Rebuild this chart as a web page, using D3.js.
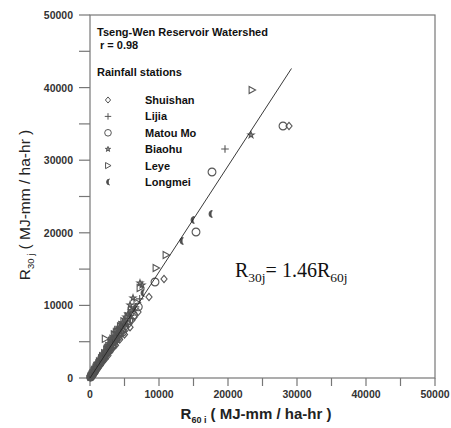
<!DOCTYPE html>
<html>
<head>
<meta charset="utf-8">
<script src="https://cdn.jsdelivr.net/npm/d3@7"></script>
<style>
  body { margin: 0; background: #fff; }
  text { font-family: "Liberation Sans", Arial, sans-serif; }
  text.serif { font-family: "Liberation Serif", "Times New Roman", serif; }
</style>
</head>
<body>
<svg id="chart" width="451" height="428"></svg>
<script>
// R60 (x) vs R30 (y) per rainfall station
const shuishan = [
  [28841, 34711], [10725, 13636], [8551, 11157], [6957, 9091], [6087, 7989],
  [5600, 7400], [5200, 7100], [4800, 6500], [4500, 6300], [4200, 5900], [3900, 5200],
  [3600, 5000], [3300, 4700], [3000, 4100], [2800, 3900], [2500, 3400], [2300, 3200],
  [2100, 2800], [1900, 2600], [1700, 2300], [1500, 2100], [1300, 1750], [1100, 1500],
  [950, 1300], [800, 1050], [650, 900], [500, 700], [400, 520], [300, 400], [200, 280],
  [120, 160], [60, 80], [5000, 6000], [4300, 5300], [3700, 4500], [3100, 3900],
  [2600, 3100], [2200, 2600], [1800, 2200], [1400, 1700], [1000, 1250], [700, 850],
  [450, 550], [5800, 7000], [6400, 8400], [4000, 5600], [3400, 4300], [2700, 3500]
];
const lijia = [
  [19565, 31543], [6600, 9800], [5400, 8200], [4600, 6900], [4100, 6200], [3700, 5500],
  [3400, 5000], [3100, 4600], [2700, 4000], [2400, 3500], [2200, 3300], [1800, 2700],
  [1600, 2300], [1400, 2000], [1200, 1800], [1000, 1450], [850, 1250], [700, 1000],
  [550, 800], [420, 620], [320, 460], [220, 320], [150, 210], [80, 110],
  [4900, 7500], [4300, 6500], [3900, 5700], [3500, 5300], [2900, 4300], [2500, 3800],
  [2000, 3000], [1700, 2500], [1300, 1900], [900, 1350], [600, 900], [350, 520],
  [5900, 8600], [7200, 10900], [5100, 7300]
];
const matou = [
  [27971, 34711], [17681, 28375], [15362, 20110], [9420, 13223], [6300, 8700],
  [5000, 6800], [4400, 6200], [3800, 5400], [3500, 5100], [3200, 4500], [2900, 4200],
  [2600, 3700], [2300, 3300], [2000, 2900], [1750, 2500], [1550, 2200], [1350, 1900],
  [1150, 1650], [900, 1300], [750, 1100], [600, 850], [450, 650], [350, 500],
  [250, 350], [150, 220], [90, 120], [5600, 7900], [4700, 6300], [4100, 5700],
  [3400, 4700], [2800, 3800], [2400, 3500], [1900, 2700], [1450, 2050], [1050, 1500],
  [680, 950], [400, 560], [7000, 9800], [5300, 8000]
];
const biaohu = [
  [23333, 33471], [7536, 12810], [7246, 13085], [6232, 11019], [5797, 10055],
  [5500, 8800], [4700, 7600], [4300, 7000], [3900, 6300], [3500, 5600], [3200, 5200],
  [2900, 4700], [2600, 4200], [2300, 3700], [2000, 3200], [1800, 2900], [1600, 2550],
  [1400, 2200], [1200, 1900], [1000, 1600], [800, 1300], [650, 1050], [500, 800],
  [380, 600], [280, 440], [180, 290], [100, 160], [4500, 6900], [4000, 6700],
  [3300, 5500], [2700, 4500], [2200, 3500], [1700, 2800], [1300, 2100], [900, 1500],
  [600, 950], [6000, 9300], [5200, 8400]
];
const leye = [
  [23478, 39669], [11014, 16942], [9565, 15152], [7246, 12397], [6000, 9400],
  [4900, 7800], [4400, 7100], [4000, 6600], [3600, 5900], [3300, 5400], [3000, 4800],
  [2700, 4400], [2400, 3900], [2200, 5400], [2100, 3400], [1900, 3000], [1650, 2700],
  [1450, 2300], [1250, 2000], [1050, 1700], [850, 1400], [700, 1100], [550, 900],
  [400, 650], [300, 480], [200, 320], [110, 180], [4600, 7300], [3800, 6300],
  [3100, 5100], [2500, 4100], [1800, 3000], [1350, 2250], [950, 1600], [620, 1050],
  [5500, 8500], [6800, 10400], [3500, 6000]
];
const longmei = [
  [17536, 22590], [14928, 21763], [13333, 18870], [7681, 11708], [5300, 7500],
  [4500, 6600], [4000, 5900], [3600, 5300], [3200, 4700], [2800, 4100], [2500, 3700],
  [2200, 3200], [1900, 2800], [1650, 2400], [1400, 2050], [1200, 1750], [1000, 1450],
  [800, 1200], [620, 900], [480, 700], [350, 520], [240, 350], [140, 200], [70, 100],
  [4800, 7200], [4200, 6100], [3400, 5100], [3000, 4300], [2600, 3900], [2000, 3050],
  [1550, 2300], [1100, 1650], [720, 1080], [420, 620], [5900, 8800], [6500, 9500]
];

const stations = ['Shuishan', 'Lijia', 'Matou Mo', 'Biaohu', 'Leye', 'Longmei'];
const stationData = [shuishan, lijia, matou, biaohu, leye, longmei];
const ticks = [0, 10000, 20000, 30000, 40000, 50000];
const minorTicks = d3.range(0, 50001, 5000);
const slope = 1.46;
const fitEnd = 29200;

const svg = d3.select('#chart');
const margin = { top: 15, right: 16, bottom: 50, left: 90 };
const width = +svg.attr('width');
const height = +svg.attr('height');

const x = d3.scaleLinear().domain([0, 50000]).range([margin.left, width - margin.right]);
const y = d3.scaleLinear().domain([0, 50000]).range([height - margin.bottom, margin.top]);

const axisColor = '#777';
const markColor = '#555';

// marker shapes
const shapes = [
  s => 'M0,' + (-s) + 'L' + (s * 0.85) + ',0L0,' + s + 'L' + (-s * 0.85) + ',0Z',          // diamond
  s => 'M' + (-s) + ',0H' + s + 'M0,' + (-s) + 'V' + s,                                     // plus
  s => d3.arc()({ innerRadius: 0, outerRadius: s, startAngle: 0, endAngle: 2 * Math.PI }),  // circle
  s => d3.symbol(d3.symbolStar, s * s * 0.8)(),                                              // star
  s => 'M' + (-s * 0.8) + ',' + (-s) + 'L' + s + ',0L' + (-s * 0.8) + ',' + s + 'Z',         // triangle right
  s => 'M1.5,' + (-s) + 'A' + s + ' ' + s + ' 0 1 0 1.5,' + s + 'A' + (s * 0.45) + ' ' + s + ' 0 0 1 1.5,' + (-s) + 'Z' // crescent
];
const fills = ['none', 'none', 'none', '#999', 'none', '#444'];
const sizes = [3.6, 3.8, 3.9, 3.8, 3.6, 3.4];

// frame
svg.append('rect')
  .attr('x', x(0)).attr('y', y(50000))
  .attr('width', x(50000) - x(0)).attr('height', y(0) - y(50000))
  .attr('fill', 'none').attr('stroke', axisColor).attr('stroke-width', 1.2);

// ticks
svg.append('g').selectAll('line').data(minorTicks).join('line')
  .attr('x1', d => x(d)).attr('x2', d => x(d))
  .attr('y1', y(0)).attr('y2', y(0) + 8)
  .attr('stroke', axisColor).attr('stroke-width', 1.2);
svg.append('g').selectAll('line').data(minorTicks).join('line')
  .attr('y1', d => y(d)).attr('y2', d => y(d))
  .attr('x1', x(0)).attr('x2', x(0) - 11)
  .attr('stroke', axisColor).attr('stroke-width', 1.2);

// tick labels
svg.append('g').selectAll('text').data(ticks).join('text')
  .attr('x', d => x(d)).attr('y', y(0) + 20)
  .attr('text-anchor', 'middle')
  .attr('font-size', 10.5).attr('font-weight', 'bold').attr('fill', '#333')
  .text(d => d);
svg.append('g').selectAll('text').data(ticks).join('text')
  .attr('x', x(0) - 17).attr('y', d => y(d) + 4)
  .attr('text-anchor', 'end')
  .attr('font-size', 10.5).attr('font-weight', 'bold').attr('fill', '#333')
  .text(d => d);

// axis titles
const xt = svg.append('text')
  .attr('x', 256).attr('y', 419)
  .attr('text-anchor', 'middle')
  .attr('font-size', 15).attr('font-weight', 'bold').attr('fill', '#222');
xt.append('tspan').text('R');
xt.append('tspan').attr('font-size', 9).attr('dy', 4).text('60 i');
xt.append('tspan').attr('dy', -4).text(' ( MJ-mm / ha-hr )');

const yt = svg.append('text')
  .attr('transform', 'translate(30,205) rotate(-90)')
  .attr('text-anchor', 'middle')
  .attr('font-size', 15.5).attr('fill', '#222');
yt.append('tspan').text('R');
yt.append('tspan').attr('font-size', 9.5).attr('dy', 4).text('30 j');
yt.append('tspan').attr('dy', -4).text(' ( MJ-mm / ha-hr )');

// fit line
const line = d3.line().x(d => x(d[0])).y(d => y(d[1]));

// points
stationData.forEach((pts, i) => {
  svg.append('g').selectAll('path').data(pts).join('path')
    .attr('transform', d => `translate(${x(d[0])},${y(d[1])})`)
    .attr('d', shapes[i](sizes[i]))
    .attr('fill', fills[i])
    .attr('stroke', markColor).attr('stroke-width', 1.1);
});

svg.append('path')
  .datum([[0, 0], [fitEnd, fitEnd * slope]])
  .attr('d', line)
  .attr('stroke', '#222').attr('stroke-width', 0.9).attr('fill', 'none');

// legend
svg.append('text').attr('x', 97).attr('y', 36)
  .attr('font-size', 11).attr('font-weight', 'bold').attr('fill', '#111')
  .text('Tseng-Wen Reservoir Watershed');
svg.append('text').attr('x', 100).attr('y', 49)
  .attr('font-size', 11).attr('font-weight', 'bold').attr('fill', '#111')
  .text('r = 0.98');
svg.append('text').attr('x', 97).attr('y', 76)
  .attr('font-size', 11).attr('font-weight', 'bold').attr('fill', '#111')
  .text('Rainfall stations');

const legendY = d3.scalePoint().domain(stations).range([100, 182]);
const lg = svg.append('g').selectAll('g').data(stations).join('g')
  .attr('transform', d => `translate(108,${legendY(d)})`);
lg.append('path')
  .attr('d', (d, i) => shapes[i](sizes[i] * 0.85))
  .attr('fill', (d, i) => fills[i])
  .attr('stroke', markColor).attr('stroke-width', 1);
lg.append('text')
  .attr('x', 37).attr('y', 4)
  .attr('font-size', 11).attr('font-weight', 'bold').attr('fill', '#111')
  .text(d => d);

// regression equation
const eq = svg.append('text')
  .attr('class', 'serif')
  .attr('x', 235).attr('y', 277)
  .attr('font-size', 20).attr('fill', '#111');
eq.append('tspan').text('R');
eq.append('tspan').attr('font-size', 13.5).attr('dy', 5).text('30j');
eq.append('tspan').attr('dy', -5).text('= 1.46R');
eq.append('tspan').attr('font-size', 13.5).attr('dy', 5).text('60j');
</script>
</body>
</html>
